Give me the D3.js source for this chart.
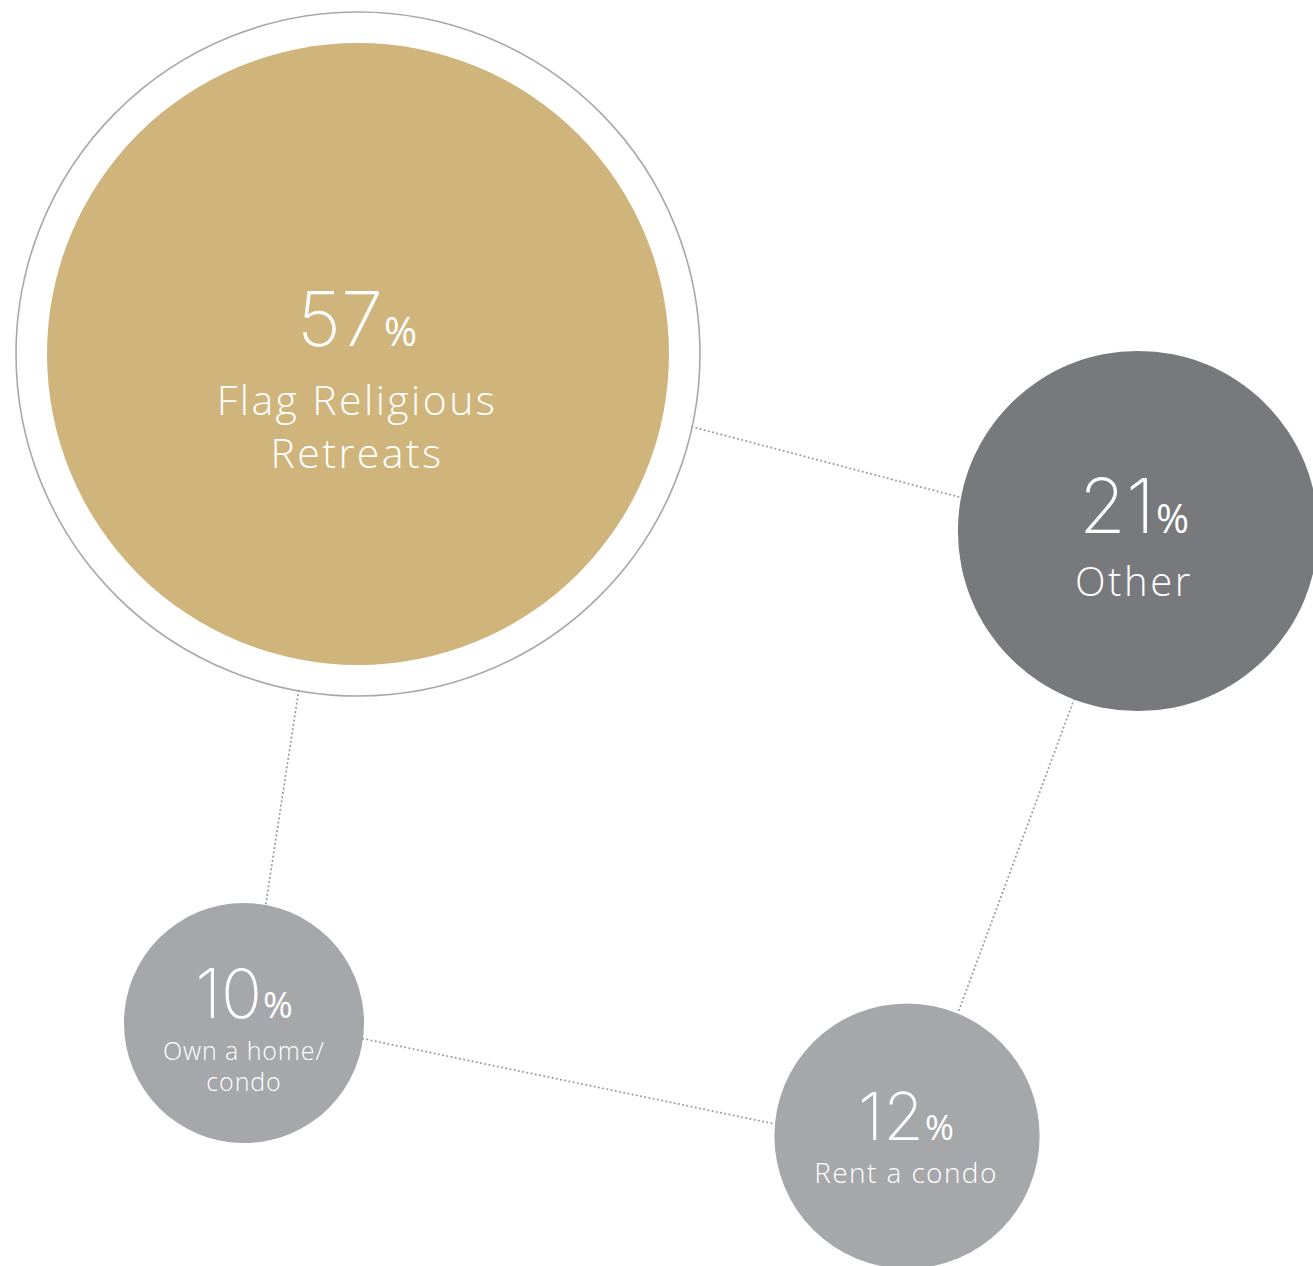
<!DOCTYPE html>
<html>
<head>
<meta charset="utf-8">
<script src="https://cdn.jsdelivr.net/npm/d3@7/dist/d3.min.js"></script>
<style>
  html, body { margin: 0; padding: 0; background: #ffffff; }
  svg { display: block; }
</style>
</head>
<body>
<div id="chart"></div>
<script>
// ---- data ----
const categories = ["Flag Religious Retreats", "Other", "Own a home/ condo", "Rent a condo"];
const values = [57, 21, 10, 12];
const labelLines = [["Flag Religious", "Retreats"], ["Other"], ["Own a home/", "condo"], ["Rent a condo"]];
const links = [[0, 1], [0, 2], [1, 3], [2, 3]];

// ---- layout / style ----
const W = 1313, H = 1266;
const centers = [[358, 354], [1138, 531], [244, 1023], [907, 1136]];
const textX = [357, 1134, 244, 906];
const fills = ["#cfb47b", "#78797d", "#a6a7ab", "#a6a7ab"];
const numSize = [76, 76, 68, 66];
const pctSize = [40, 40, 36, 35];
const numDy = [-8, 2, -5, 4];
const labelSize = [41, 40, 25, 28];
const labelSpacing = [2.4, 2.6, 0.9, 1.4];
const labelDy = [[61, 114], [65], [37, 68], [47]];
const ringGap = 31;
// link endpoint angles (degrees) on each circle's edge
const linkAngles = [[12.3, 190.7], [100, -79.6], [110.8, -67.5], [7.5, 185.2]];

const r = d3.scalePow().exponent(0.547).domain([0, d3.max(values)]).range([0, 311]);

const svg = d3.select("#chart").append("svg")
  .attr("width", W).attr("height", H);

const edgeR = i => r(values[i]) + (i === 0 ? ringGap : 0);
const pt = (i, deg) => {
  const a = deg * Math.PI / 180;
  return [centers[i][0] + edgeR(i) * Math.cos(a), centers[i][1] + edgeR(i) * Math.sin(a)];
};

// dotted connectors
svg.append("g").selectAll("line").data(links).join("line")
  .attr("x1", (d, k) => pt(d[0], linkAngles[k][0])[0])
  .attr("y1", (d, k) => pt(d[0], linkAngles[k][0])[1])
  .attr("x2", (d, k) => pt(d[1], linkAngles[k][1])[0])
  .attr("y2", (d, k) => pt(d[1], linkAngles[k][1])[1])
  .attr("stroke", "#9d9da0")
  .attr("stroke-width", 2)
  .attr("stroke-linecap", "round")
  .attr("stroke-dasharray", "0.1,4.2");

// outer ring on largest
svg.append("circle")
  .attr("cx", centers[0][0]).attr("cy", centers[0][1])
  .attr("r", r(values[0]) + ringGap)
  .attr("fill", "none").attr("stroke", "#a8a8ab").attr("stroke-width", 1.6);

const nodes = svg.append("g").selectAll("g").data(values).join("g");

nodes.append("circle")
  .attr("cx", (d, i) => centers[i][0])
  .attr("cy", (d, i) => centers[i][1])
  .attr("r", d => r(d))
  .attr("fill", (d, i) => fills[i]);

const num = nodes.append("text")
  .attr("x", (d, i) => textX[i])
  .attr("y", (d, i) => centers[i][1] + numDy[i])
  .attr("text-anchor", "middle")
  .attr("fill", "#ffffff");
num.append("tspan")
  .attr("font-family", "Inter, 'DejaVu Sans', sans-serif")
  .attr("font-weight", 200)
  .attr("font-size", (d, i) => numSize[i])
  .text(d => d);
num.append("tspan")
  .attr("font-family", "'Open Sans', sans-serif")
  .attr("font-weight", 400)
  .attr("font-size", (d, i) => pctSize[i])
  .attr("dx", 1)
  .text("%");

nodes.each(function (d, i) {
  d3.select(this).selectAll("text.lbl").data(labelLines[i]).join("text")
    .attr("class", "lbl")
    .attr("x", textX[i])
    .attr("y", (t, j) => centers[i][1] + labelDy[i][j])
    .attr("text-anchor", "middle")
    .attr("fill", "#ffffff")
    .attr("font-family", "'Open Sans', sans-serif")
    .attr("font-weight", 300)
    .attr("font-size", labelSize[i])
    .attr("letter-spacing", labelSpacing[i])
    .text(t => t);
});
</script>
</body>
</html>
